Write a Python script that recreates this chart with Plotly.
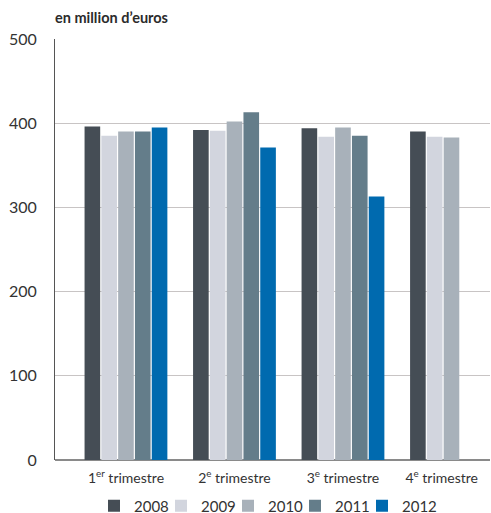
import plotly.graph_objects as go

quarters = ["1<sup>er</sup> trimestre", "2<sup>e</sup> trimestre", "3<sup>e</sup> trimestre", "4<sup>e</sup> trimestre"]
quarter_pos = [0, 1, 2, 3]
label_pos = [0, 1, 2, 2.91]
years = ["2008", "2009", "2010", "2011", "2012"]
v2008 = [396, 392, 394, 390]
v2009 = [385, 391, 384, 384]
v2010 = [390, 402, 395, 383]
v2011 = [390, 413, 385, None]
v2012 = [395, 371, 313, None]
values = [v2008, v2009, v2010, v2011, v2012]
colors = ["#454d55", "#d2d5de", "#a8b1ba", "#647d8a", "#006aaf"]
y_ticks = [0, 100, 200, 300, 400, 500]

fig = go.Figure()
for yr, vals, c in zip(years, values, colors):
    fig.add_trace(go.Bar(x=quarter_pos, y=vals, name=yr, marker=dict(color=c, line=dict(width=0))))
# blank legend spacer so the last legend label is not clipped
fig.add_trace(go.Scatter(x=[None], y=[None], name=" ", mode="markers",
                         marker=dict(color="rgba(0,0,0,0)"), hoverinfo="skip"))

fig.update_layout(
    width=491, height=513,
    margin=dict(l=55, r=1, t=39, b=53),
    paper_bgcolor="white", plot_bgcolor="white",
    barmode="group", bargap=0.226, bargroupgap=0.07,
    font=dict(family="Lato, 'Open Sans', sans-serif", color="#333333"),
    title=dict(text="<b>en million d’euros</b>", xref="container", x=55/491, xanchor="left",
               yref="container", y=1-18/513, yanchor="middle",
               font=dict(size=14.5, color="#2b2b2b")),
    showlegend=True,
    legend=dict(orientation="h", xref="container", x=94/491, xanchor="left",
                yref="container", y=1-506/513, yanchor="middle",
                entrywidth=22, entrywidthmode="pixels",
                font=dict(size=15, color="#333333"), traceorder="normal"),
    xaxis=dict(range=[-0.654, 3.355], tickmode="array", tickvals=label_pos, ticktext=quarters,
               showgrid=False, zeroline=False, showline=False, ticks="",
               ticklabelstandoff=8,
               tickfont=dict(size=14, color="#333333")),
    yaxis=dict(range=[0, 500], tickmode="array", tickvals=y_ticks,
               showgrid=True, gridcolor="#c8c4c4", gridwidth=1,
               zeroline=True, zerolinecolor="#8a8a8a", zerolinewidth=1.5,
               showline=True, linecolor="#555555", linewidth=1,
               ticks="", ticklabelstandoff=14,
               tickfont=dict(size=16, color="#333333")),
)

fig.write_html("out.html")
